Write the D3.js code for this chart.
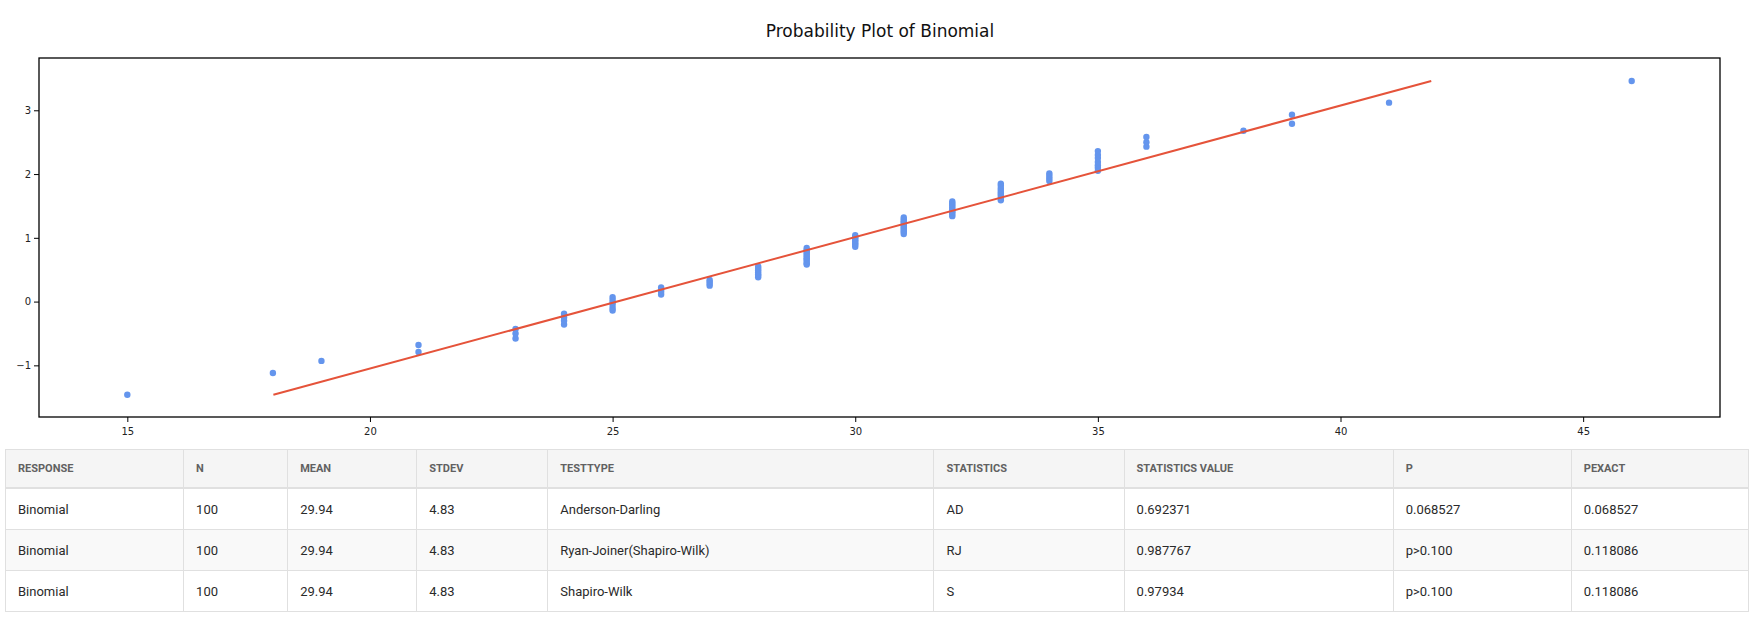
<!DOCTYPE html>
<html lang="en">
<head>
    <meta charset="UTF-8">
    <title>Probability Plot of Binomial</title>
    <script src="https://d3js.org/d3.v7.min.js"></script>
    <style>
        body { margin: 0; background: #fff; }
        #chart { position: absolute; left: 0; top: 0; }
        .axis text { font-family: "DejaVu Sans", Verdana, sans-serif; font-size: 10px; fill: #222; }
        .axis line { stroke: #000; }
        #stats {
            position: absolute; left: 5px; top: 449px; width: 1744px;
            border-collapse: collapse; table-layout: fixed;
            font-family: Roboto, sans-serif; font-size: 13px; color: #2a2a2a;
        }
        #stats th, #stats td {
            border: 1px solid #e0e0e0; text-align: left; padding: 0 12px;
        }
        #stats th {
            background: #f5f5f5; color: #616161; font-size: 11px; font-weight: bold;
            height: 37px; border-bottom: 2px solid #e0e0e0;
        }
        #stats td { height: 40px; }
        #stats tbody tr:nth-child(even) td { background: #f9f9f9; }
    </style>
</head>
<body>
<div id="chart"></div>
<table id="stats"></table>
<script>

    // sorted sample values (x) and their normal scores (y)
    var xValues = [15, 18, 19, 21, 21, 23, 23, 23, 24, 24, 24, 24,
        25, 25, 25, 25, 25, 25, 26, 26, 26, 26, 27, 27, 27, 27,
        28, 28, 28, 28, 28, 28, 28,
        29, 29, 29, 29, 29, 29, 29, 29, 29, 29, 29,
        30, 30, 30, 30, 30, 30, 30, 30,
        31, 31, 31, 31, 31, 31, 31, 31, 31, 31, 31,
        32, 32, 32, 32, 32, 32, 32, 32, 32,
        33, 33, 33, 33, 33, 33, 33, 33, 33,
        34, 34, 34, 34, 35, 35, 35, 35, 35, 35, 35,
        36, 36, 36, 38, 39, 39, 41, 46];
    var yValues = [-1.46, -1.12, -0.93, -0.79, -0.68, -0.58, -0.50, -0.43, -0.36, -0.30, -0.25, -0.19,
        -0.14, -0.10, -0.05, -0.01, 0.03, 0.07, 0.11, 0.15, 0.18, 0.22, 0.25, 0.28, 0.31, 0.34,
        0.38, 0.41, 0.43, 0.46, 0.49, 0.52, 0.55,
        0.58, 0.60, 0.63, 0.66, 0.68, 0.71, 0.74, 0.76, 0.79, 0.81, 0.84,
        0.86, 0.89, 0.91, 0.94, 0.96, 0.99, 1.01, 1.04,
        1.06, 1.09, 1.11, 1.14, 1.16, 1.19, 1.21, 1.24, 1.26, 1.29, 1.32,
        1.34, 1.37, 1.40, 1.42, 1.45, 1.48, 1.51, 1.54, 1.57,
        1.59, 1.62, 1.66, 1.69, 1.72, 1.75, 1.78, 1.82, 1.85,
        1.89, 1.93, 1.97, 2.01, 2.05, 2.10, 2.14, 2.19, 2.25, 2.30, 2.36,
        2.43, 2.50, 2.58, 2.68, 2.79, 2.93, 3.12, 3.46];

    // fitted line end points
    var lineX = [18.01, 41.87];
    var lineY = [-1.46, 3.46];

    var xTicks = [15, 20, 25, 30, 35, 40, 45];
    var yTicks = [-1, 0, 1, 2, 3];
    var xDomain = [13.18, 47.82];
    var yDomain = [-1.81, 3.82];

    var columns = ["RESPONSE", "N", "MEAN", "STDEV", "TESTTYPE", "STATISTICS", "STATISTICS VALUE", "P", "PEXACT"];
    var colWidths = [178, 104, 129, 131, 386, 190, 269, 178, 177];
    var responses = ["Binomial", "Binomial", "Binomial"];
    var nValues = ["100", "100", "100"];
    var means = ["29.94", "29.94", "29.94"];
    var stdevs = ["4.83", "4.83", "4.83"];
    var testTypes = ["Anderson-Darling", "Ryan-Joiner(Shapiro-Wilk)", "Shapiro-Wilk"];
    var statistics = ["AD", "RJ", "S"];
    var statValues = ["0.692371", "0.987767", "0.97934"];
    var pValues = ["0.068527", "p>0.100", "p>0.100"];
    var pExact = ["0.068527", "0.118086", "0.118086"];

    var w = 1758;
    var h = 445;
    var plotL = 39, plotR = 1720, plotT = 58, plotB = 417;

    var svg = d3.select("#chart")
        .append("svg")
        .attr("width", w)
        .attr("height", h);

    var x = d3.scaleLinear().domain(xDomain).range([plotL, plotR]);
    var y = d3.scaleLinear().domain(yDomain).range([plotB, plotT]);

    svg.append("text")
        .attr("x", 880)
        .attr("y", 37)
        .attr("text-anchor", "middle")
        .style("font-family", "'DejaVu Sans', Verdana, sans-serif")
        .style("font-size", "17px")
        .style("fill", "#111")
        .text("Probability Plot of Binomial");

    svg.append("g")
        .attr("class", "axis")
        .attr("transform", "translate(0," + plotB + ")")
        .call(d3.axisBottom(x).tickValues(xTicks).tickFormat(d3.format("d")).tickSize(5).tickPadding(6))
        .call(g => g.select(".domain").remove());

    svg.append("g")
        .attr("class", "axis")
        .attr("transform", "translate(" + plotL + ",0)")
        .call(d3.axisLeft(y).tickValues(yTicks).tickFormat(d3.format("d")).tickSize(5).tickPadding(3))
        .call(g => g.select(".domain").remove());

    svg.append("rect")
        .attr("x", plotL)
        .attr("y", plotT)
        .attr("width", plotR - plotL)
        .attr("height", plotB - plotT)
        .attr("fill", "none")
        .attr("stroke", "#000")
        .attr("stroke-width", 1.3);

    svg.append("g")
        .selectAll("circle")
        .data(xValues)
        .enter()
        .append("circle")
        .attr("cx", d => x(d))
        .attr("cy", (d, i) => y(yValues[i]))
        .attr("r", 3.2)
        .attr("fill", "#6495ed");

    svg.append("line")
        .attr("x1", x(lineX[0]))
        .attr("y1", y(lineY[0]))
        .attr("x2", x(lineX[1]))
        .attr("y2", y(lineY[1]))
        .attr("stroke", "#e5533a")
        .attr("stroke-width", 2);

    // stats table
    var table = d3.select("#stats");
    table.append("colgroup")
        .selectAll("col")
        .data(colWidths)
        .enter()
        .append("col")
        .style("width", d => d + "px");

    table.append("thead").append("tr")
        .selectAll("th")
        .data(columns)
        .enter()
        .append("th")
        .text(d => d);

    var rows = responses.map((r, i) => [r, nValues[i], means[i], stdevs[i], testTypes[i],
        statistics[i], statValues[i], pValues[i], pExact[i]]);

    table.append("tbody")
        .selectAll("tr")
        .data(rows)
        .enter()
        .append("tr")
        .selectAll("td")
        .data(d => d)
        .enter()
        .append("td")
        .text(d => d);

</script>
</body>
</html>
